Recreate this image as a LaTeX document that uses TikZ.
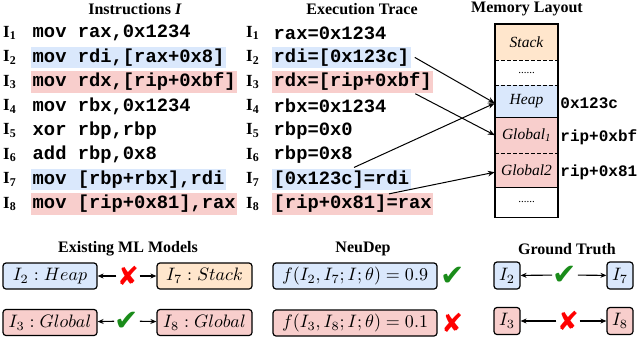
\documentclass[tikz,border=0pt]{standalone}
\usepackage{graphicx}
\usepackage[no-math]{fontspec}
\setmainfont{Liberation Serif}
\setmonofont{Liberation Mono}
\newfontfamily\symfont{DejaVu Sans}
\usetikzlibrary{positioning, arrows.meta, calc}
\definecolor{heapblue}{HTML}{DAE8FC}
\definecolor{globred}{HTML}{F8CECC}
\definecolor{stackorange}{HTML}{FFE6CC}
\definecolor{okgreen}{HTML}{1A8C1A}
\definecolor{badred}{HTML}{FF0000}
\newcommand{\chkmark}{{\symfont\color{okgreen}✔}}
\newcommand{\crsmark}{{\symfont\color{badred}✘}}
\newcommand{\bigmath}[1]{\scalebox{1.8}{$#1$}}

\begin{document}
\begin{tikzpicture}[x=1pt, y=-1pt,
  hdr/.style={font=\fontsize{16}{18}\selectfont\bfseries},
  lbl/.style={font=\fontsize{17}{19}\selectfont\bfseries, anchor=west, inner sep=0pt},
  code/.style={font=\fontsize{18.8}{20}\selectfont\ttfamily\bfseries, anchor=west, inner xsep=1.5pt, inner ysep=0pt, minimum height=21.5pt},
  addr/.style={font=\fontsize{16}{18}\selectfont\ttfamily\bfseries, inner sep=0pt},
  cell/.style={minimum width=63pt, inner sep=0pt, anchor=north, font=\fontsize{15.5}{17}\selectfont\itshape},
  dots/.style={cell, font=\fontsize{11}{12}\selectfont},
  mbox/.style={draw, rounded corners=3pt, line width=1.2pt, minimum height=26pt, inner sep=1pt, font=\normalsize},
  verdict/.style={inner sep=0.5pt},
  ok/.style={verdict, font=\fontsize{29}{31}\selectfont},
  bad/.style={verdict, font=\fontsize{26}{28}\selectfont},
  link/.style={-{Stealth[length=7pt,width=5.5pt]}, line width=1pt},
  pair/.style={-{Stealth[length=6pt,width=5pt]}, line width=1.1pt}
]
  \useasboundingbox (0,0) rectangle (640,338);

  % headers
  \node[hdr] (hins) at (135,9) {Instructions \textit{I}};
  \node[hdr] (htr) at (362,9) {Execution Trace};
  \node[hdr] (hmem) at (527,9) {Memory Layout};

  % instructions
  \node[lbl] (l1) at (3,33) {I\textsubscript{1}};
  \node[lbl] (l2) at (3,57.4) {I\textsubscript{2}};
  \node[lbl] (l3) at (3,81.8) {I\textsubscript{3}};
  \node[lbl] (l4) at (3,106.2) {I\textsubscript{4}};
  \node[lbl] (l5) at (3,130.6) {I\textsubscript{5}};
  \node[lbl] (l6) at (3,155) {I\textsubscript{6}};
  \node[lbl] (l7) at (3,179.4) {I\textsubscript{7}};
  \node[lbl] (l8) at (3,203.8) {I\textsubscript{8}};
  \node[code] (i1) at (31,33) {mov rax,0x1234};
  \node[code, fill=heapblue] (i2) at (31,57.4) {mov rdi,[rax+0x8]};
  \node[code, fill=globred] (i3) at (31,81.8) {mov rdx,[rip+0xbf]};
  \node[code] (i4) at (31,106.2) {mov rbx,0x1234};
  \node[code] (i5) at (31,130.6) {xor rbp,rbp};
  \node[code] (i6) at (31,155) {add rbp,0x8};
  \node[code, fill=heapblue] (i7) at (31,179.4) {mov [rbp+rbx],rdi};
  \node[code, fill=globred] (i8) at (31,203.8) {mov [rip+0x81],rax};

  % execution trace
  \node[lbl] (m1) at (246,33) {I\textsubscript{1}};
  \node[lbl] (m2) at (246,57.4) {I\textsubscript{2}};
  \node[lbl] (m3) at (246,81.8) {I\textsubscript{3}};
  \node[lbl] (m4) at (246,106.2) {I\textsubscript{4}};
  \node[lbl] (m5) at (246,130.6) {I\textsubscript{5}};
  \node[lbl] (m6) at (246,155) {I\textsubscript{6}};
  \node[lbl] (m7) at (246,179.4) {I\textsubscript{7}};
  \node[lbl] (m8) at (246,203.8) {I\textsubscript{8}};
  \node[code] (t1) at (272,33) {rax=0x1234};
  \node[code, fill=heapblue] (t2) at (272,57.4) {rdi=[0x123c]};
  \node[code, fill=globred] (t3) at (272,81.8) {rdx=[rip+0xbf]};
  \node[code] (t4) at (272,106.2) {rbx=0x1234};
  \node[code] (t5) at (272,130.6) {rbp=0x0};
  \node[code] (t6) at (272,155) {rbp=0x8};
  \node[code, fill=heapblue] (t7) at (272,179.4) {[0x123c]=rdi};
  \node[code, fill=globred] (t8) at (272,203.8) {[rip+0x81]=rax};

  % memory layout
  \node[cell, fill=stackorange, minimum height=36pt] (stack) at (526.5,24) {Stack};
  \node[dots, minimum height=25pt] (gap1) at (526.5,60) {......};
  \node[cell, fill=heapblue, minimum height=32pt] (heap) at (526.5,85) {Heap};
  \node[cell, fill=globred, minimum height=36pt] (glob1) at (526.5,117) {Global\textsubscript{\textit{1}}};
  \node[cell, fill=globred, minimum height=34pt] (glob2) at (526.5,153) {Global2};
  \node[dots, minimum height=30pt] (gap2) at (526.5,187) {......};
  \draw[line width=1pt, dash pattern=on 4pt off 2pt] (stack.south west) -- (stack.south east);
  \draw[line width=1pt, dash pattern=on 4pt off 2pt] (gap1.south west) -- (gap1.south east);
  \draw[line width=1pt, dash pattern=on 4pt off 2pt] (glob1.south west) -- (glob1.south east);
  \draw[line width=1.5pt] (heap.south west) -- (heap.south east);
  \draw[line width=1.5pt] (glob2.south west) -- (glob2.south east);
  \draw[line width=1.8pt] (stack.north west) rectangle (gap2.south east);
  \node[addr, anchor=west] (a1) at ($(heap.east)+(2,2)$) {0x123c};
  \node[addr, anchor=west] (a2) at ($(glob1.east)+(2,2)$) {rip+0xbf};
  \node[addr, anchor=west] (a3) at ($(glob2.east)+(2,2)$) {rip+0x81};

  \draw[link] ($(t2.east)+(4,0)$) -- ($(heap.west)+(0,2)$);
  \draw[link] ($(t3.south east)+(-18,1)$) -- (glob1.west);
  \draw[link] ($(t7.north west)+(82,-1)$) -- ($(heap.west)+(0,2)$);
  \draw[link] ($(t8.north west)+(117,1)$) -- ($(glob2.west)+(0,2)$);

  % bottom: existing models
  \node[hdr] (hex) at (128,249) {Existing ML Models};
  \node[mbox, fill=heapblue, minimum width=94pt] (e2) at (50,276) {\bigmath{I_2 : Heap}};
  \node[mbox, fill=stackorange, minimum width=95pt] (e7) at (204.5,276) {\bigmath{I_7 : Stack}};
  \node[mbox, fill=globred, minimum width=94pt] (e3) at (50,322.5) {\bigmath{I_3 : Global}};
  \node[mbox, fill=globred, minimum width=95pt] (e8) at (204.5,322.5) {\bigmath{I_8 : Global}};
  \node[bad] (ex1) at (128,276) {\crsmark};
  \node[ok] (ex2) at (127,321) {\chkmark};
  \draw[pair] (ex1) -- (e2);
  \draw[pair] (ex1) -- (e7);
  \draw[pair] (ex2) -- (e3);
  \draw[pair] (ex2) -- (e8);

  % NeuDep
  \node[hdr] (hnd) at (363,249) {NeuDep};
  \node[mbox, fill=heapblue, minimum width=164pt] (n27) at (355,276) {\bigmath{f(I_2, I_7; I; \theta) = 0.9}};
  \node[mbox, fill=globred, minimum width=164pt] (n38) at (355,323) {\bigmath{f(I_3, I_8; I; \theta) = 0.1}};
  \node[ok, right=2pt of n27] (nd1) {\chkmark};
  \node[bad, right=3pt of n38] (nd2) {\crsmark};

  % ground truth
  \node[hdr] (hgt) at (567,249) {Ground Truth};
  \node[mbox, fill=heapblue, minimum width=26pt, minimum height=27pt] (g2) at (507,275.5) {\bigmath{I_2}};
  \node[mbox, fill=heapblue, minimum width=26pt, minimum height=27pt] (g7) at (620,275.5) {\bigmath{I_7}};
  \node[mbox, fill=globred, minimum width=26pt, minimum height=27pt] (g3) at (507,321) {\bigmath{I_3}};
  \node[mbox, fill=globred, minimum width=26pt, minimum height=27pt] (g8) at (620,321) {\bigmath{I_8}};
  \node[ok] (gt1) at (565,275) {\chkmark};
  \node[bad] (gt2) at (568,321) {\crsmark};
  \draw[pair] (gt1) -- (g2);
  \draw[pair] (gt1) -- (g7);
  \draw[pair] (gt2) -- (g3);
  \draw[pair] (gt2) -- (g8);
\end{tikzpicture}
\end{document}
